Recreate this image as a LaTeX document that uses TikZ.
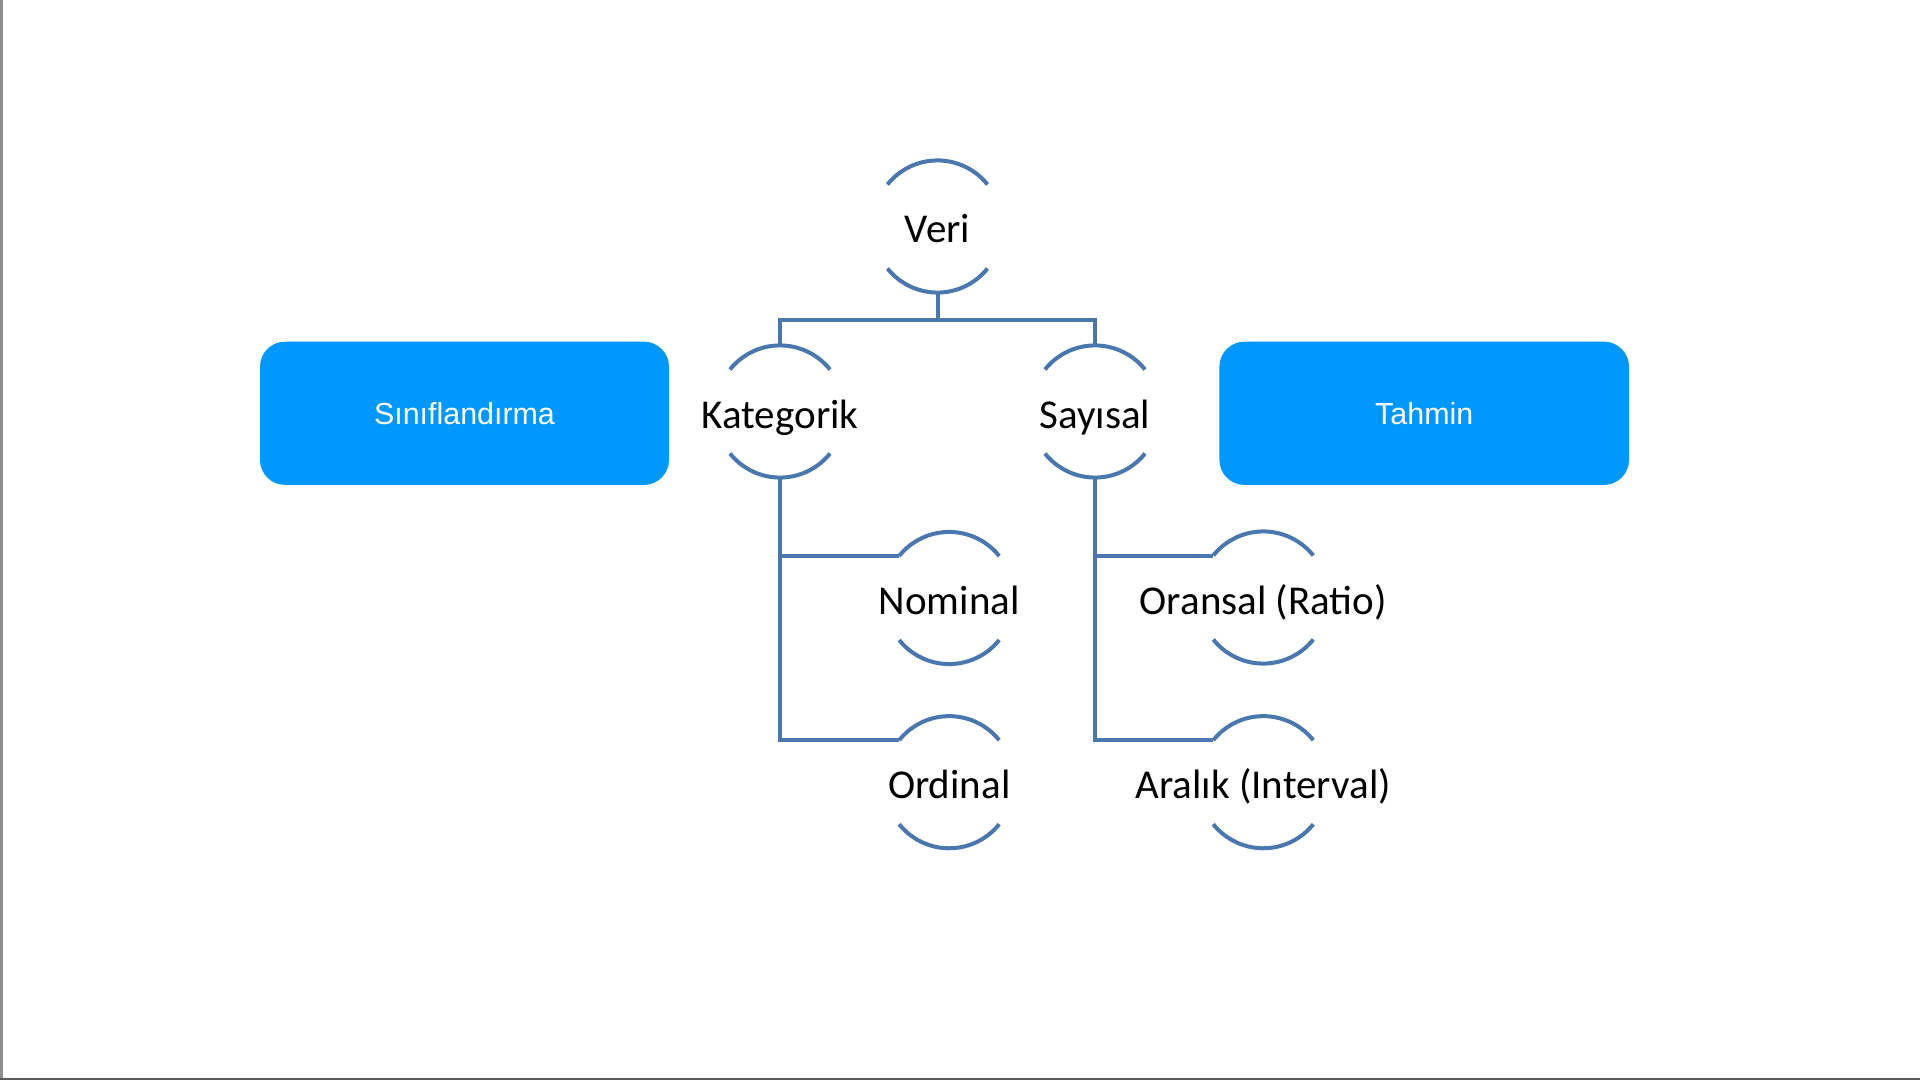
\documentclass[tikz,border=0pt]{standalone}
\usepackage{fontspec}
\setmainfont{Carlito}
\newfontfamily\boxfont{Liberation Sans}
\usetikzlibrary{calc}
\definecolor{linecol}{HTML}{4A78AE}
\definecolor{boxcol}{HTML}{0098FF}
\definecolor{frameL}{HTML}{8E8E8E}
\definecolor{frameB}{HTML}{5A5A5A}
\tikzset{
  conn/.style={draw=linecol, line width=2pt},
  lbl/.style={inner sep=0pt, font=\fontsize{20.5pt}{24pt}\selectfont, text=black},
  bluebox/.style={fill=boxcol, draw=none, rounded corners=12.5pt, inner sep=0pt,
    text=white, font=\boxfont\fontsize{15.2pt}{18pt}\selectfont},
}
\newcommand\brk[4]{%
  \coordinate (#1) at (#2,#3);
  \node[lbl, anchor=base] (#1-txt) at (#2,{#3+16.5}) {#4};
  \coordinate (#1-top) at (#2,{#3-66});
  \coordinate (#1-bot) at (#2,{#3+66});
  \coordinate (#1-l) at ({#2-50},{#3-42});
  \draw[conn] ($(#1)+(50,-42)$) arc[start angle=38.6, end angle=141.4, radius=32pt];
  \draw[conn] ($(#1)+(50,42)$) arc[start angle=-38.6, end angle=-141.4, radius=32pt];
}
\begin{document}
\begin{tikzpicture}[x=0.5pt,y=-0.5pt]
\useasboundingbox (0,0) rectangle (1920,1080);
\fill[white] (0,0) rectangle (1920,1080);
\fill[frameL] (0,0) rectangle (2.7,1080);
\fill[frameB] (0,1077.5) rectangle (1920,1080);

% blue boxes
\node[bluebox, minimum width=204.5pt, minimum height=71.6pt] (sinif) at (464.5,413.3) {Sınıflandırma};
\node[bluebox, minimum width=204.8pt, minimum height=71.6pt] (tahmin) at (1424.2,413.3) {Tahmin};

% bracket nodes
\brk{veri}{937.5}{226.5}{Veri}
\brk{kat}{780}{411.5}{Kategorik}
\brk{say}{1095}{411.5}{Sayısal}
\brk{nom}{949.2}{598}{Nominal}
\brk{ord}{949.2}{782.2}{Ordinal}
\brk{ora}{1263.3}{597.5}{Oransal (Ratio)}
\brk{ara}{1263.3}{782.2}{Aralık (Interval)}

% connectors
\coordinate (vj) at (937.5,320);
\draw[conn] (veri-bot) -- (vj);
\draw[conn] (kat-top) |- (vj) -| (say-top);
\draw[conn] (kat-bot) |- (ord-l);
\draw[conn] (kat-bot) |- (nom-l);
\draw[conn] (say-bot) |- (ara-l);
\draw[conn] (say-bot) |- (ora-l);
\end{tikzpicture}
\end{document}
